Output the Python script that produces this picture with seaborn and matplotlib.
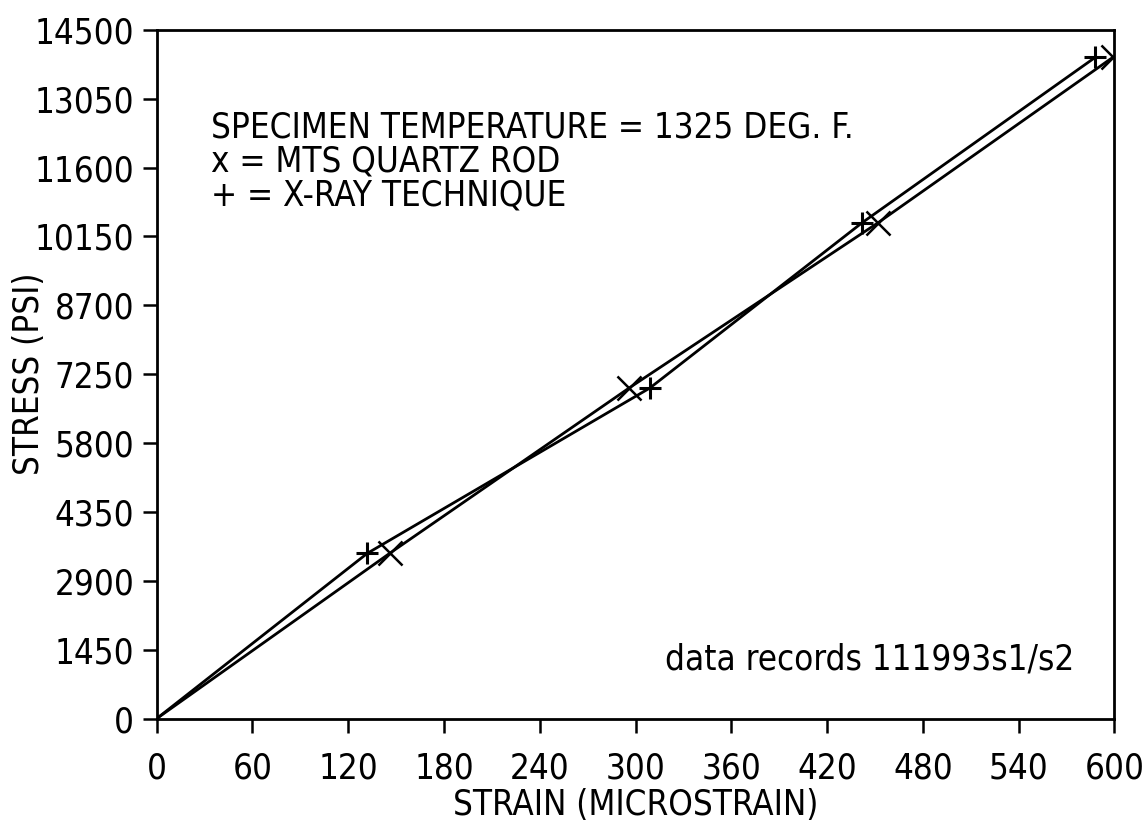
import numpy as np
import pandas as pd
import seaborn as sns
from matplotlib import pyplot as plt

# stress levels (psi) shared by both measurements
stress = [0, 3480, 6960, 10440, 13920]
# strain readings (microstrain)
strain_xray = [0, 132, 309, 442, 588]     # + = X-RAY TECHNIQUE
strain_quartz = [0, 146, 296, 452, 599]   # x = MTS QUARTZ ROD

x_ticks = list(range(0, 601, 60))
y_ticks = list(range(0, 14501, 1450))

notes = ['SPECIMEN TEMPERATURE = 1325 DEG. F.',
         'x = MTS QUARTZ ROD',
         '+ = X-RAY TECHNIQUE']
footnote = 'data records 111993s1/s2'

sns.set_style('ticks')
plt.rcParams['font.family'] = ['DejaVu Sans']
plt.rcParams['font.stretch'] = 'condensed'
plt.rcParams['text.color'] = 'black'
plt.rcParams['axes.labelcolor'] = 'black'

fig, ax = plt.subplots()
fig.set_size_inches(11.43, 8.27)
fig.subplots_adjust(left=0.137, right=0.975, top=0.964, bottom=0.131)

xray = pd.DataFrame({'strain': strain_xray, 'stress': stress})
quartz = pd.DataFrame({'strain': strain_quartz, 'stress': stress})

# lines from origin through each set of readings
sns.lineplot(data=xray, x='strain', y='stress', sort=False, color='black', lw=2, ax=ax)
sns.lineplot(data=quartz, x='strain', y='stress', sort=False, color='black', lw=2, ax=ax)

# markers (not drawn at the origin)
sns.scatterplot(data=xray[xray['strain'] > 0], x='strain', y='stress', marker='+',
                s=260, color='black', linewidth=2.2, ax=ax, zorder=5)
sns.scatterplot(data=quartz[quartz['strain'] > 0], x='strain', y='stress', marker='x',
                s=300, color='black', linewidth=1.8, ax=ax, zorder=5)

ax.set_xlim(0, 600)
ax.set_ylim(0, 14500)
ax.set_xticks(x_ticks)
ax.set_yticks(y_ticks)
ax.tick_params(axis='both', direction='out', length=10, width=1.8, labelsize=25, colors='black')
ax.tick_params(axis='x', pad=14)
ax.tick_params(axis='y', pad=6)
for sp in ax.spines.values():
    sp.set_linewidth(2)
    sp.set_color('black')

ax.set_xlabel('STRAIN (MICROSTRAIN)', fontsize=25)
ax.set_ylabel('STRESS (PSI)', fontsize=25)
ax.xaxis.set_label_coords(0.5, -0.1)
ax.yaxis.set_label_coords(-0.115, 0.5)

# annotation block
for i, line in enumerate(notes):
    ax.text(0.057, 0.858 - i * 0.049, line, transform=ax.transAxes,
            fontsize=25, va='center', ha='left')
ax.text(0.531, 0.086, footnote, transform=ax.transAxes, fontsize=25, va='center', ha='left')

plt.savefig('out.png', dpi=100)
